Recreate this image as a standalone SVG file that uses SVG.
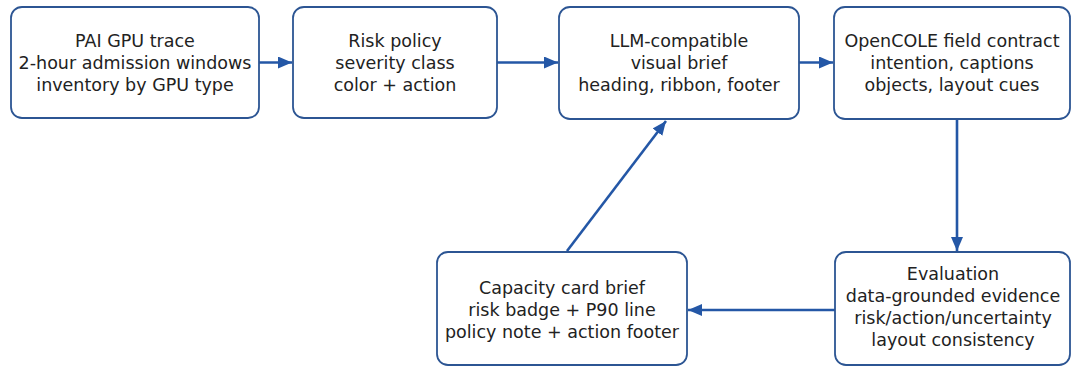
<svg xmlns="http://www.w3.org/2000/svg" width="1072" height="367" viewBox="0 0 1072 367">
<style>
.box{fill:#ffffff;stroke:#2c5593;stroke-width:1.8}
.t{font-family:"DejaVu Sans",sans-serif;font-size:17.5px;fill:#222222;text-anchor:middle}
.c{stroke:#2457a6;stroke-width:2.6;fill:none;marker-end:url(#ah)}
</style>
<defs>
<marker id="ah" markerWidth="15" markerHeight="13" refX="14" refY="6" orient="auto" markerUnits="userSpaceOnUse">
<path d="M0,0 L14,6 L0,12 Z" fill="#2457a6"/>
</marker>
</defs>
<rect width="1072" height="367" fill="#ffffff"/>
<g id="connectors">
<line class="c" x1="259" y1="62.5" x2="292" y2="62.5"/>
<line class="c" x1="497" y1="62.5" x2="558" y2="62.5"/>
<line class="c" x1="799" y1="62.5" x2="833" y2="62.5"/>
<line class="c" x1="957" y1="119" x2="957" y2="251"/>
<line class="c" x1="835" y1="310" x2="688" y2="310"/>
<line class="c" x1="567" y1="251" x2="666" y2="121"/>
</g>
<g id="n1">
<rect class="box" x="11" y="7" width="248" height="111" rx="11"/>
<text class="t" x="135" y="46.5">PAI GPU trace</text>
<text class="t" x="135" y="68.5">2-hour admission windows</text>
<text class="t" x="135" y="90.5">inventory by GPU type</text>
</g>
<g id="n2">
<rect class="box" x="293" y="7" width="204" height="111" rx="11"/>
<text class="t" x="395" y="46.5">Risk policy</text>
<text class="t" x="395" y="68.5">severity class</text>
<text class="t" x="395" y="90.5">color + action</text>
</g>
<g id="n3">
<rect class="box" x="559" y="7" width="240" height="112" rx="11"/>
<text class="t" x="679" y="46.5">LLM-compatible</text>
<text class="t" x="679" y="68.5">visual brief</text>
<text class="t" x="679" y="90.5">heading, ribbon, footer</text>
</g>
<g id="n4">
<rect class="box" x="834" y="7" width="236" height="112" rx="11"/>
<text class="t" x="952" y="46.5">OpenCOLE field contract</text>
<text class="t" x="952" y="68.5">intention, captions</text>
<text class="t" x="952" y="90.5">objects, layout cues</text>
</g>
<g id="n5">
<rect class="box" x="437" y="252" width="250" height="113" rx="11"/>
<text class="t" x="562" y="294">Capacity card brief</text>
<text class="t" x="562" y="316">risk badge + P90 line</text>
<text class="t" x="562" y="338">policy note + action footer</text>
</g>
<g id="n6">
<rect class="box" x="835" y="252" width="235" height="113" rx="11"/>
<text class="t" x="953" y="280">Evaluation</text>
<text class="t" x="953" y="302">data-grounded evidence</text>
<text class="t" x="953" y="324">risk/action/uncertainty</text>
<text class="t" x="953" y="346">layout consistency</text>
</g>
</svg>
